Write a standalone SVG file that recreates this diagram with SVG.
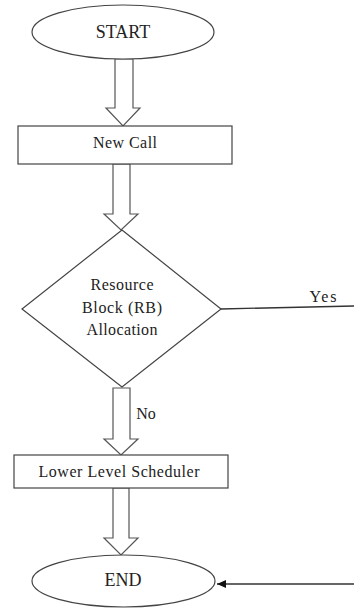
<svg xmlns="http://www.w3.org/2000/svg" width="354" height="609" viewBox="0 0 354 609">
<style>
.shape{fill:#fff;stroke:#444;stroke-width:1.2}
.barrow{fill:#fff;stroke:#555;stroke-width:1.2;stroke-linejoin:miter}
.t{font-family:"Liberation Serif","Times New Roman",serif;fill:#222;text-anchor:middle}
.line{stroke:#333;stroke-width:1.3;fill:none}
</style>
<defs>
<marker id="ah" markerWidth="10" markerHeight="8" refX="9" refY="4" orient="auto" markerUnits="userSpaceOnUse">
<path d="M0,0 L9,4 L0,8 Z" fill="#111"/>
</marker>
</defs>
<g id="connectors">
<path class="barrow" d="M115,59 L133,59 L133,108 L140,108 L123,126 L106,108 L115,108 Z"/>
<path class="barrow" d="M113,164 L130,164 L130,214 L138,214 L121,230 L104,214 L113,214 Z"/>
<path class="barrow" d="M113,388 L130,388 L130,439 L138,439 L121,455 L104,439 L113,439 Z"/>
<path class="barrow" d="M113,488 L129,488 L129,538 L138,538 L121,555 L104,538 L113,538 Z"/>
<line class="line" x1="221" y1="309" x2="354" y2="306"/>
<text class="t" x="323" y="302" font-size="16" textLength="27" lengthAdjust="spacing">Yes</text>
<text class="t" x="146" y="419" font-size="16">No</text>
<line class="line" x1="354" y1="584" x2="217" y2="584" marker-end="url(#ah)"/>
</g>
<g id="start">
<ellipse class="shape" cx="123" cy="32" rx="91" ry="27"/>
<text class="t" x="123" y="38" font-size="18">START</text>
</g>
<g id="newcall">
<rect class="shape" x="18" y="126" width="214" height="38"/>
<text class="t" x="125" y="148" font-size="16" textLength="64" lengthAdjust="spacing">New Call</text>
</g>
<g id="decision">
<polygon class="shape" points="122,230 221,309 122,387 22,309"/>
<text class="t" x="122" y="290" font-size="16" textLength="63" lengthAdjust="spacing">Resource</text>
<text class="t" x="122" y="313" font-size="16" textLength="80" lengthAdjust="spacing">Block (RB)</text>
<text class="t" x="122" y="335" font-size="16" textLength="71" lengthAdjust="spacing">Allocation</text>
</g>
<g id="lower">
<rect class="shape" x="14" y="455" width="214" height="33"/>
<text class="t" x="119" y="477" font-size="16" textLength="161" lengthAdjust="spacing">Lower Level Scheduler</text>
</g>
<g id="end">
<ellipse class="shape" cx="123.5" cy="581" rx="91.5" ry="26"/>
<text class="t" x="123" y="586" font-size="18">END</text>
</g>
</svg>
